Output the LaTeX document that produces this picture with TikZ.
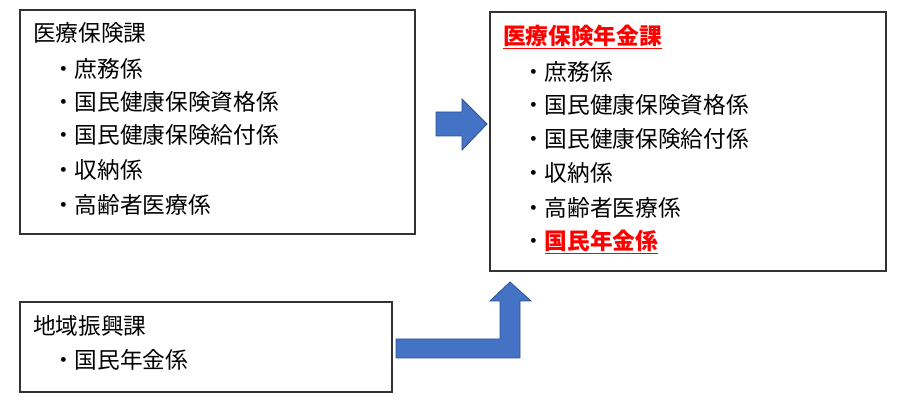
\documentclass[tikz,border=0pt]{standalone}
\usepackage{fontspec}
\setmainfont{Noto Sans CJK JP}
\definecolor{arrowblue}{RGB}{68,114,196}
\definecolor{arrowedge}{RGB}{47,82,143}
\definecolor{newred}{RGB}{255,0,0}
\tikzset{
  box/.style={draw=black!80, line width=0.9pt},
  txt/.style={anchor=west, inner sep=0pt, font=\fontsize{17}{17}\selectfont},
  newtxt/.style={txt, text=newred, font=\fontsize{17}{17}\selectfont\bfseries},
  blockarrow/.style={fill=arrowblue, draw=arrowedge, line width=0.6pt}
}
\begin{document}
\begin{tikzpicture}[x=0.75pt, y=-0.75pt]
\useasboundingbox (0,0) rectangle (915,409);
% boxes
\draw [box] (20,10) rectangle (415,234);
\draw [box] (490,12) rectangle (886,271);
\draw [box] (20,302) rectangle (392,392);

% left upper
\node [txt] (oldtitle) at (33,33) {医療保険課};
\node [txt] (old1) at (52,69) {・庶務係};
\node [txt] (old2) at (52,102) {・国民健康保険資格係};
\node [txt] (old3) at (52,135) {・国民健康保険給付係};
\node [txt] (old4) at (52,170) {・収納係};
\node [txt] (old5) at (52,205) {・高齢者医療係};

% left lower
\node [txt] (regtitle) at (33,326) {地域振興課};
\node [txt] (reg1) at (52,360) {・国民年金係};

% right
\node [newtxt] (newtitle) at (503,37) {\underline{医療保険年金課}};
\node [txt] (new1) at (522,72) {・庶務係};
\node [txt] (new2) at (522,105) {・国民健康保険資格係};
\node [txt] (new3) at (522,139) {・国民健康保険給付係};
\node [txt] (new4) at (522,173) {・収納係};
\node [txt] (new5) at (522,208) {・高齢者医療係};
\node [txt] (new6) at (522,242) {・{\color{newred}\bfseries\underline{国民年金係}}};

% arrows
\draw [blockarrow] (436,112) -- (462,112) -- (462,99) -- (487,124)
      -- (462,150) -- (462,136) -- (436,136) -- cycle;
\draw [blockarrow] (396,339) -- (500,339) -- (500,301) -- (490,301) -- (510,282)
      -- (531,301) -- (520,301) -- (520,358) -- (396,358) -- cycle;
\end{tikzpicture}
\end{document}
